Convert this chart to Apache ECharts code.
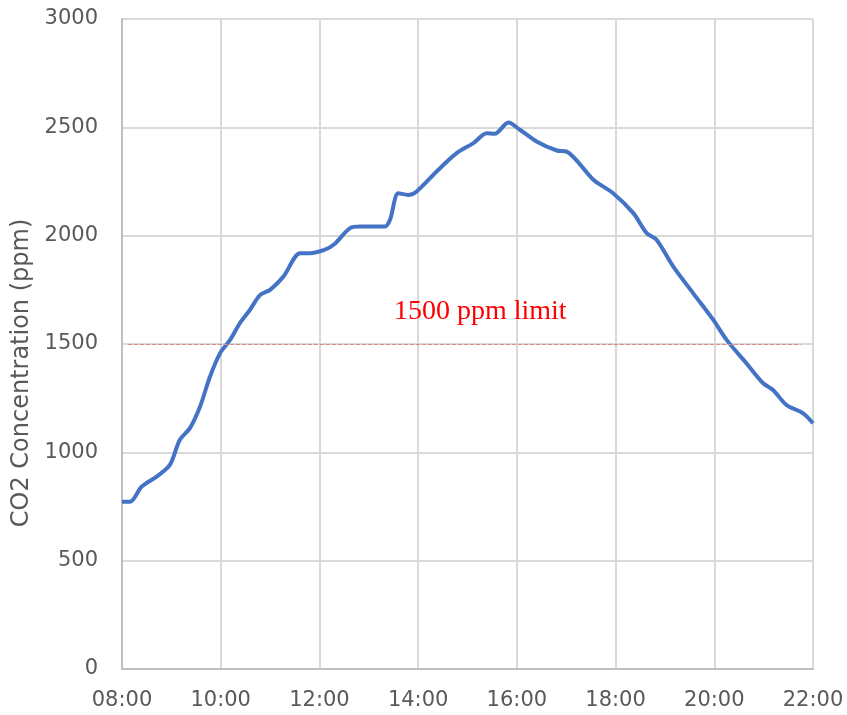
<!DOCTYPE html>
<html>
<head>
<meta charset="utf-8">
<script src="https://cdn.jsdelivr.net/npm/echarts@6/dist/echarts.min.js"></script>
<style>
  html, body { margin: 0; padding: 0; background: #fff; }
  #main { width: 847px; height: 715px; }
</style>
</head>
<body>
<div id="main"></div>
<script>
// time of day in hours
const hours = [8.0, 8.16, 8.4, 8.7, 8.97, 9.17, 9.38, 9.58, 9.78, 9.99, 10.19, 10.39, 10.59, 10.8, 11.0,
  11.27, 11.61, 11.81, 12.1, 12.3, 12.62, 12.82, 13.33, 13.43, 13.6, 13.8, 13.97, 14.41, 14.78, 15.12,
  15.39, 15.55, 15.83, 16.06, 16.4, 16.81, 17.01, 17.55, 17.95, 18.36, 18.63, 18.83, 19.17, 19.57,
  19.98, 20.25, 20.65, 20.99, 21.19, 21.46, 21.8, 22.0]
// CO2 concentration (ppm)
const co2 = [772, 772, 842, 888, 942, 1057, 1113, 1210, 1348, 1459, 1519, 1597, 1657, 1727, 1750,
  1811, 1919, 1919, 1934, 1960, 2035, 2042, 2042, 2073, 2196, 2188, 2204, 2304, 2381, 2427,
  2473, 2470, 2522, 2489, 2435, 2393, 2388, 2258, 2196, 2104, 2012, 1981, 1857, 1735,
  1611, 1519, 1411, 1319, 1288, 1219, 1180, 1134]
const limit = 1500
const limitText = '1500 ppm limit'

const axisFont = { fontFamily: 'DejaVu Sans', fontSize: 21, color: '#595959' }

const chart = echarts.init(document.getElementById('main'))
chart.setOption({
  animation: false,
  grid: { left: 122, right: 34, top: 19, bottom: 46, outerBoundsMode: 'none' },
  xAxis: {
    type: 'value',
    min: 8,
    max: 22,
    interval: 2,
    axisLine: { show: true, lineStyle: { color: '#bfbfbf', width: 2 } },
    axisTick: { show: false },
    splitLine: { show: true, lineStyle: { color: '#d9d9d9', width: 2 } },
    axisLabel: Object.assign({
      margin: 21,
      formatter: v => (v < 10 ? '0' : '') + v + ':00'
    }, axisFont)
  },
  yAxis: {
    type: 'value',
    min: 0,
    max: 3000,
    interval: 500,
    name: 'CO2 Concentration (ppm)',
    nameLocation: 'middle',
    nameGap: 88,
    nameTextStyle: {
      fontFamily: 'DejaVu Sans', fontSize: 24, color: '#595959',
      padding: [0, 58, 0, 0] // push it down a bit like the original
    },
    axisLine: { show: true, lineStyle: { color: '#bfbfbf', width: 2 } },
    axisTick: { show: false },
    splitLine: { show: true, lineStyle: { color: '#d9d9d9', width: 2 } },
    axisLabel: Object.assign({ margin: 24, formatter: v => String(v) }, axisFont)
  },
  series: [{
    type: 'line',
    data: hours.map((h, i) => [h, co2[i]]),
    smooth: 0.3,
    showSymbol: false,
    lineStyle: { color: '#4472c4', width: 4 },
    markLine: {
      silent: true,
      symbol: 'none',
      lineStyle: { color: '#d98a8a', type: 'dashed', width: 1 },
      label: {
        show: true,
        position: 'insideMiddleTop',
        distance: 18,
        offset: [16, 0],
        formatter: limitText,
        fontFamily: 'Liberation Serif',
        fontSize: 28,
        color: '#ff0000'
      },
      data: [[{ coord: [8.12, limit] }, { coord: [21.75, limit] }]]
    }
  }]
})
</script>
</body>
</html>
